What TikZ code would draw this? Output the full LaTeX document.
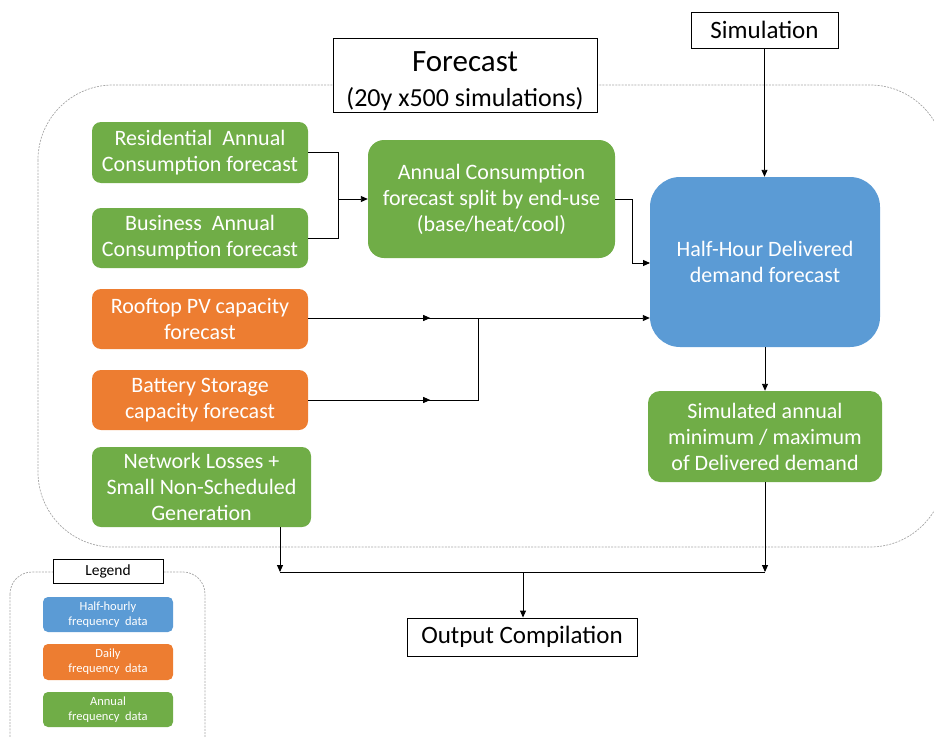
\documentclass[tikz,border=0pt]{standalone}
\usepackage{fontspec}
\setmainfont{Carlito}
\usetikzlibrary{arrows.meta}
\definecolor{annualgreen}{HTML}{70AD47}
\definecolor{dailyorange}{HTML}{ED7D31}
\definecolor{hhblue}{HTML}{5B9BD5}
\definecolor{groupgray}{HTML}{A6A6A6}
\begin{document}
\begin{tikzpicture}[x=1pt,y=-1pt,
  databox/.style={rounded corners=9pt, text=white, align=center, inner sep=0pt,
    font=\fontsize{22}{26}\selectfont},
  annualbox/.style={databox, fill=annualgreen},
  dailybox/.style={databox, fill=dailyorange},
  hhbox/.style={databox, fill=hhblue},
  plainbox/.style={draw, fill=white, line width=0.9pt, inner sep=0pt, align=center},
  legendbox/.style={rounded corners=5pt, text=white, align=center, inner sep=0pt,
    minimum width=130pt, minimum height=35pt, font=\fontsize{12.5}{15}\selectfont},
  groupline/.style={draw=groupgray, line width=0.7pt, dash pattern=on 2pt off 1.2pt},
  wire/.style={line width=0.9pt},
  link/.style={wire, -{Triangle[length=7pt,width=6pt]}}
]
\useasboundingbox (0,0) rectangle (934,736);

% grouping frames
\draw[groupline, rounded corners=75pt] (38,85) rectangle (945,547);
\draw[groupline, rounded corners=22pt] (10,572) rectangle (205,760);

% headers
\node[plainbox, minimum width=264pt, minimum height=74pt, font=\fontsize{26}{35}\selectfont] (fc) at (465,75)
  {{\fontsize{31}{32}\selectfont\rule{0pt}{33pt}Forecast}\\(20y x500 simulations)};
\node[plainbox, minimum width=147pt, minimum height=36pt, font=\fontsize{25}{28}\selectfont]
  (sim) at (764.5,30) {Simulation};

% input forecasts
\node[annualbox, minimum width=216pt, minimum height=61pt] (res) at (200,152.5)
  {Residential~ Annual\\Consumption forecast};
\node[annualbox, minimum width=216pt, minimum height=60pt] (bus) at (200,238)
  {Business~ Annual\\Consumption forecast};
\node[dailybox, minimum width=216pt, minimum height=60pt] (pv) at (200,319)
  {Rooftop PV capacity\\forecast};
\node[dailybox, minimum width=216pt, minimum height=60pt] (bat) at (200,400)
  {Battery Storage\\capacity forecast};
\node[annualbox, minimum width=219pt, minimum height=80pt] (net) at (201.5,487)
  {Network Losses +\\Small Non-Scheduled\\Generation};

% processing
\node[annualbox, rounded corners=16pt, minimum width=247pt, minimum height=118pt] (split) at (491.5,199)
  {Annual Consumption\\forecast split by end-use\\(base/heat/cool)};
\node[hhbox, rounded corners=30pt, minimum width=230pt, minimum height=170pt] (hh) at (765,262)
  {Half-Hour Delivered\\demand forecast};
\node[annualbox, rounded corners=12pt, minimum width=234pt, minimum height=91pt] (sa) at (765,436.5)
  {Simulated annual\\minimum / maximum\\of Delivered demand};

% output
\node[plainbox, minimum width=230pt, minimum height=38pt, font=\fontsize{25}{28}\selectfont]
  (out) at (522,637) {Output Compilation};

% legend
\node[plainbox, minimum width=110pt, minimum height=24pt, font=\fontsize{15.5}{18}\selectfont]
  (leg) at (108,571) {Legend};
\node[legendbox, fill=hhblue] (lhh) at (108,614.5) {Half-hourly\\frequency~ data};
\node[legendbox, fill=dailyorange, minimum height=36pt] (ld) at (108,662) {Daily\\frequency~ data};
\node[legendbox, fill=annualgreen] (la) at (108,709.5) {Annual\\frequency~ data};

% consumption merge
\coordinate (jm) at (338,199);
\draw[wire] (res.east) -| (jm);
\draw[wire] (bus.east) -| (jm);
\draw[link] (jm) -- (split.west);

% split into half-hour model
\coordinate (hhin) at (650,263);
\draw[link] (split.east) -- (632,199) -- (632,263) -- (hhin);

% PV and storage
\coordinate (jb) at (478,318);
\draw[link] (pv.east |- jb) -- (hh.west |- jb);
\draw[link] (pv.east |- jb) -- +(122,0);
\draw[wire] (bat.east) -| (jb);
\draw[link] (bat.east) -- +(122,0);

% simulation chain
\draw[link] (sim.south) -- (sim.south |- hh.north);
\draw[link] (hh.south) -- (sa.north);

% output collection
\coordinate (bl) at (280,572);
\coordinate (br) at (765,572);
\coordinate (bm) at (523,572);
\draw[link] (bl |- net.south) -- (bl);
\draw[link] (sa.south) -- (br);
\draw[wire] (bl) -- (br);
\draw[link] (bm) -- (bm |- out.north);
\end{tikzpicture}
\end{document}
